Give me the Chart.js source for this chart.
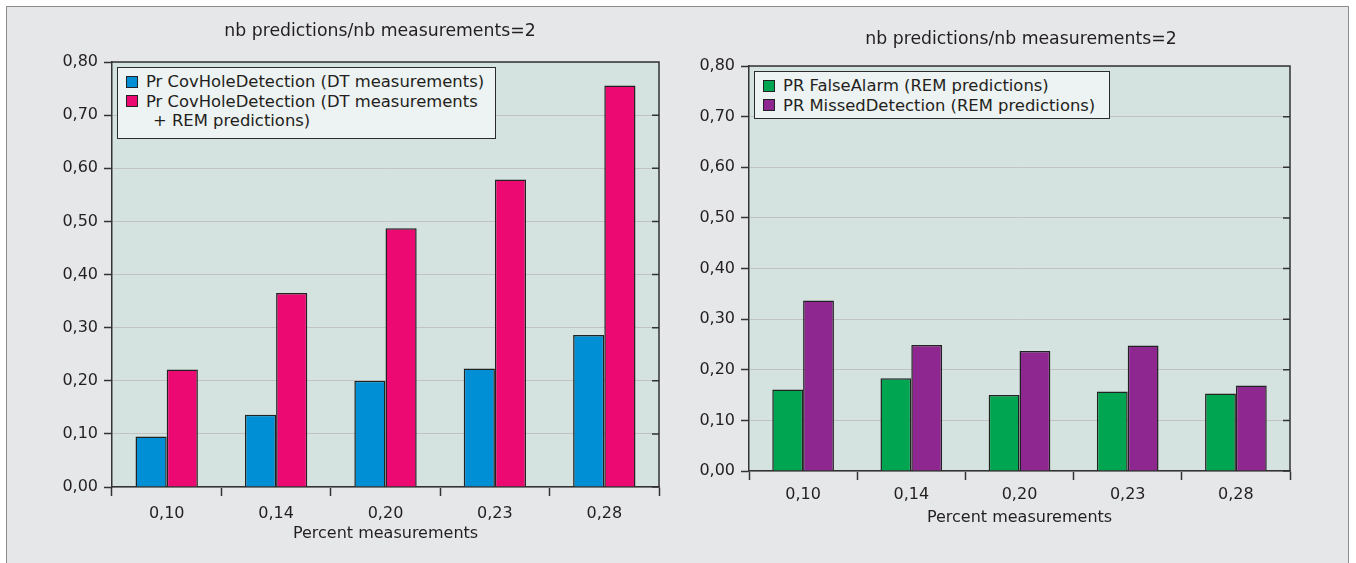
<!DOCTYPE html>
<html>
<head>
<meta charset="utf-8">
<script src="https://cdn.jsdelivr.net/npm/chart.js@4.4.1/dist/chart.umd.min.js"></script>
<style>
  body { margin: 0; width: 1356px; height: 563px; overflow: hidden; background: #fff; font-family: "DejaVu Sans", "Open Sans", sans-serif; color: #231f20; }
  #frame { position: absolute; left: 6px; top: 6px; width: 1343px; height: 580px; box-sizing: border-box; background: #e6e7e9; border: 1.5px solid #8c8c8c; }
  .wrap { position: absolute; top: 0; height: 563px; }
  .title { position: absolute; font-size: 17.3px; text-align: center; white-space: nowrap; transform: translate(-50%, -50%); }
  .legend { position: absolute; box-sizing: border-box; background: #edf2f2; border: 1.5px solid #2b2b2b; font-size: 16.4px; line-height: 19.5px; padding: 4px 6px 2px 8px; }
  .legend .row { display: flex; align-items: center; white-space: nowrap; }
  .legend .sw { width: 10px; height: 10px; border: 1px solid #222; margin-right: 8px; flex: none; }
  .legend .cont { padding-left: 27px; white-space: nowrap; }
</style>
</head>
<body>
<div id="frame"></div>
<div class="wrap" style="left:0;width:690px"><canvas id="left"></canvas></div>
<div class="wrap" style="left:690px;width:666px"><canvas id="right"></canvas></div>
<div class="title" style="left:380px;top:30px">nb predictions/nb measurements=2</div>
<div class="title" style="left:1021px;top:38px">nb predictions/nb measurements=2</div>
<div class="legend" id="legLeft" style="left:117px;top:67px;width:379px;height:72px"></div>
<div class="legend" id="legRight" style="left:754px;top:71px;width:356px;height:48px"></div>
<script>
// categories (x axis)
const categories = ['0,10', '0,14', '0,20', '0,23', '0,28'];
// left chart
const covHoleDT = [0.095, 0.136, 0.200, 0.223, 0.286];
const covHoleDTREM = [0.221, 0.365, 0.487, 0.579, 0.756];
// right chart
const falseAlarm = [0.161, 0.183, 0.150, 0.157, 0.153];
const missedDetection = [0.337, 0.249, 0.237, 0.248, 0.169];
// y ticks
const yMin = 0, yMax = 0.8, yStep = 0.1;

const FONT = '"DejaVu Sans", "Open Sans", sans-serif';
const INK = '#231f20';

const fmt = v => v.toFixed(2).replace('.', ',');

// frame on top and right of the plot, plus short inner ticks on the right side
const plotFrame = {
  id: 'plotFrame',
  afterDraw(chart) {
    const { ctx, chartArea: a, scales } = chart;
    ctx.save();
    ctx.strokeStyle = '#333';
    ctx.lineWidth = 1.5;
    ctx.beginPath();
    ctx.moveTo(a.left, a.top);
    ctx.lineTo(a.right, a.top);
    ctx.lineTo(a.right, a.bottom);
    scales.y.ticks.forEach(t => {
      const y = scales.y.getPixelForValue(t.value);
      ctx.moveTo(a.right - 7, y);
      ctx.lineTo(a.right, y);
    });
    ctx.stroke();
    ctx.restore();
  }
};

const plotBg = {
  id: 'plotBg',
  beforeDraw(chart) {
    const { ctx, chartArea: a } = chart;
    ctx.save();
    ctx.fillStyle = '#d5e3e0';
    ctx.fillRect(a.left, a.top, a.right - a.left, a.bottom - a.top);
    ctx.restore();
  }
};

function makeChart(id, datasets, g) {
  return new Chart(document.getElementById(id), {
    type: 'bar',
    data: {
      labels: categories,
      datasets: datasets.map(d => ({
        label: d.label,
        data: d.data,
        backgroundColor: d.color,
        borderColor: '#222',
        borderWidth: 1.5,
        categoryPercentage: 0.57,
        barPercentage: 1.0
      }))
    },
    options: {
      responsive: true,
      maintainAspectRatio: false,
      animation: false,
      layout: { padding: { top: g.top, right: g.right, left: 0, bottom: g.bottom } },
      plugins: { legend: { display: false }, title: { display: false }, tooltip: { enabled: false } },
      scales: {
        x: {
          afterFit: s => { s.height = g.xHeight; },
          grid: { offset: true, drawOnChartArea: false, tickColor: '#333', tickLength: 9, tickWidth: 1.5 },
          border: { display: true, color: '#333', width: 1.5 },
          ticks: { color: INK, font: { family: FONT, size: 16 }, padding: g.xPad },
          title: { display: true, text: 'Percent measurements', color: INK, font: { family: FONT, size: 16, lineHeight: 1.2 }, padding: 0 }
        },
        y: {
          min: yMin, max: yMax,
          afterFit: s => { s.width = g.yWidth; },
          grid: { color: '#c2c2c2', borderDash: [2, 3], lineWidth: 1, tickColor: '#333', tickLength: 8, tickWidth: 1.5, tickBorderDash: [] },
          border: { display: true, color: '#333', width: 1.5 },
          ticks: { stepSize: yStep, color: INK, font: { family: FONT, size: 16 }, padding: 6, callback: v => fmt(v) }
        }
      }
    },
    plugins: [plotBg, plotFrame]
  });
}

const leftSets = [
  { label: 'Pr CovHoleDetection (DT measurements)', data: covHoleDT, color: '#008fd5' },
  { label: 'Pr CovHoleDetection (DT measurements\n+ REM predictions)', data: covHoleDTREM, color: '#ec0972' }
];
const rightSets = [
  { label: 'PR FalseAlarm (REM predictions)', data: falseAlarm, color: '#00a551' },
  { label: 'PR MissedDetection (REM predictions)', data: missedDetection, color: '#8e278f' }
];

makeChart('left', leftSets, { top: 62, right: 31, bottom: 19.4, xHeight: 56.6, yWidth: 112, xPad: 8 });
makeChart('right', rightSets, { top: 66, right: 66, bottom: 35.4, xHeight: 56.6, yWidth: 59, xPad: 5.5 });

function buildLegend(el, sets) {
  sets.forEach(d => {
    const lines = d.label.split('\n');
    const row = document.createElement('div');
    row.className = 'row';
    row.innerHTML = `<span class="sw" style="background:${d.color}"></span><span>${lines[0]}</span>`;
    el.appendChild(row);
    lines.slice(1).forEach(l => {
      const c = document.createElement('div');
      c.className = 'cont';
      c.textContent = l;
      el.appendChild(c);
    });
  });
}
buildLegend(document.getElementById('legLeft'), leftSets);
buildLegend(document.getElementById('legRight'), rightSets);
</script>
</body>
</html>
